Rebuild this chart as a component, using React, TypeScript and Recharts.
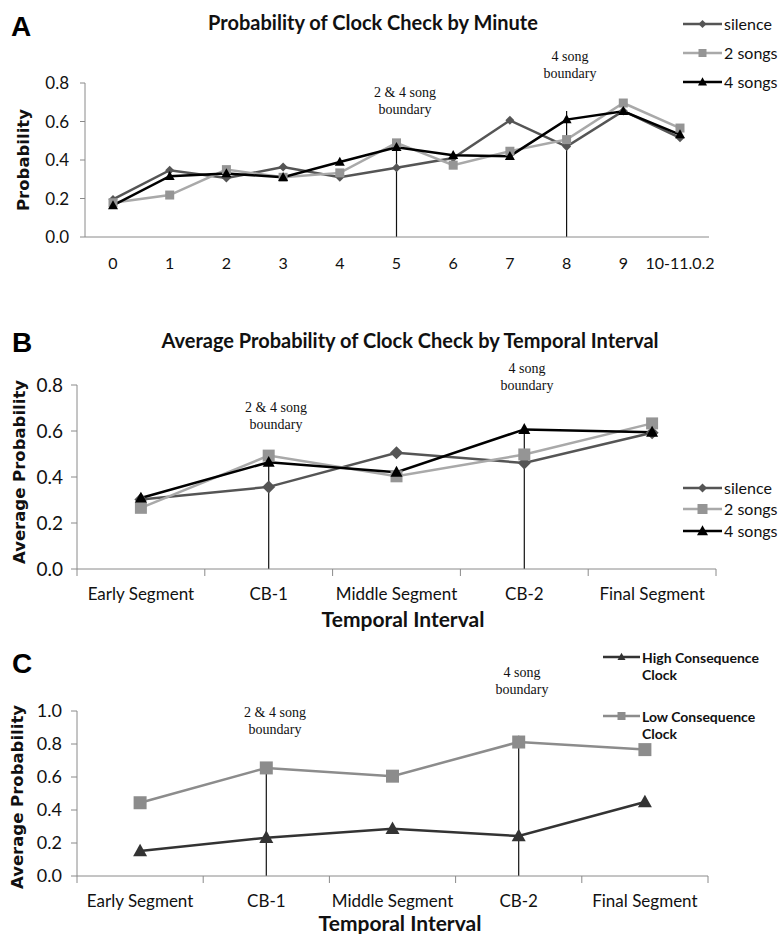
import React from 'react';
import { LineChart, Line, XAxis, YAxis, ReferenceLine } from 'recharts';

// panel A: by minute
const minutes = ['0', '1', '2', '3', '4', '5', '6', '7', '8', '9', '10-11.0.2'];
const silenceByMinute = [0.195, 0.347, 0.306, 0.363, 0.31, 0.36, 0.41, 0.606, 0.47, 0.655, 0.515];
const twoSongsByMinute = [0.178, 0.218, 0.35, 0.31, 0.333, 0.489, 0.373, 0.446, 0.506, 0.696, 0.566];
const fourSongsByMinute = [0.164, 0.316, 0.33, 0.31, 0.39, 0.466, 0.425, 0.42, 0.61, 0.653, 0.532];

// panels B and C: by temporal interval
const intervals = ['Early Segment', 'CB-1', 'Middle Segment', 'CB-2', 'Final Segment'];
const silenceByInterval = [0.302, 0.357, 0.505, 0.461, 0.592];
const twoSongsByInterval = [0.266, 0.493, 0.403, 0.498, 0.633];
const fourSongsByInterval = [0.309, 0.464, 0.421, 0.607, 0.595];
const highConsequence = [0.151, 0.232, 0.286, 0.242, 0.448];
const lowConsequence = [0.444, 0.655, 0.605, 0.812, 0.766];

const ticksTo08 = [0, 0.2, 0.4, 0.6, 0.8];
const ticksTo10 = [0, 0.2, 0.4, 0.6, 0.8, 1.0];

// song boundaries: category and height of the drawn line
const boundariesA = [{ at: '5', top: 0.48 }, { at: '8', top: 0.655 }];
const boundariesB = [{ at: 'CB-1', top: 0.48 }, { at: 'CB-2', top: 0.62 }];
const boundariesC = [{ at: 'CB-1', top: 0.655 }, { at: 'CB-2', top: 0.85 }];

const dataA = minutes.map((m, i) => ({
  minute: m,
  silence: silenceByMinute[i],
  two: twoSongsByMinute[i],
  four: fourSongsByMinute[i],
}));
const dataB = intervals.map((t, i) => ({
  interval: t,
  silence: silenceByInterval[i],
  two: twoSongsByInterval[i],
  four: fourSongsByInterval[i],
}));
const dataC = intervals.map((t, i) => ({
  interval: t,
  high: highConsequence[i],
  low: lowConsequence[i],
}));

const NARROW = "Lato, 'DejaVu Sans Condensed', sans-serif";
const WIDE = "'DejaVu Sans', Verdana, sans-serif";
const SERIF = "'Liberation Serif', 'Times New Roman', serif";
const AXIS = '#8a8a8a';

const C_SIL = '#555555';
const C_TWO = '#a9a9a9';
const C_TWO_M = '#959595';
const C_FOUR = '#000000';
const C_HIGH = '#333333';
const C_LOW = '#8c8c8c';

type Shape = 'diamond' | 'square' | 'triangle';

function markerPath(shape: Shape, cx: number, cy: number, size: number) {
  const h = size / 2;
  if (shape === 'diamond') return `M${cx},${cy - h}L${cx + h},${cy}L${cx},${cy + h}L${cx - h},${cy}Z`;
  if (shape === 'square') return `M${cx - h},${cy - h}h${size}v${size}h${-size}Z`;
  return `M${cx},${cy - h * 1.05}L${cx + h},${cy + h * 0.75}L${cx - h},${cy + h * 0.75}Z`;
}

const marker = (shape: Shape, size: number, fill: string) => (props: any) => {
  const { cx, cy, index } = props;
  if (cx == null || cy == null) return <g key={index} />;
  return <path key={index} d={markerPath(shape, cx, cy, size)} fill={fill} />;
};

const Txt = ({ x, y, style, children }: any) => (
  <div
    style={{
      position: 'absolute',
      left: x,
      top: y,
      transform: 'translate(-50%, -50%)',
      whiteSpace: 'nowrap',
      lineHeight: 1,
      ...style,
    }}
  >
    {children}
  </div>
);

const YLabel = ({ x, y, text }: any) => (
  <div
    style={{
      position: 'absolute',
      left: x,
      top: y,
      transform: 'translate(-50%, -50%) rotate(-90deg)',
      whiteSpace: 'nowrap',
      lineHeight: 1,
      fontFamily: WIDE,
      fontWeight: 'bold',
      fontSize: 16.5,
      color: '#111',
    }}
  >
    {text}
  </div>
);

const Boundary = ({ x, y, text }: any) => (
  <Txt x={x} y={y} style={{ fontFamily: SERIF, fontSize: 14, lineHeight: '17px', textAlign: 'center', color: '#111' }}>
    {text[0]}
    <br />
    {text[1]}
  </Txt>
);

const LegendRow = ({ x, y, shape, color, markColor, size, width, label, style }: any) => (
  <div style={{ position: 'absolute', left: x, top: y - 8 }}>
    <svg width={width} height={16} style={{ position: 'absolute', left: 0, top: 0 }}>
      <line x1={0} x2={width} y1={8} y2={8} stroke={color} strokeWidth={2.5} />
      <path d={markerPath(shape, width / 2, 8, size)} fill={markColor} />
    </svg>
    <div
      style={{
        position: 'absolute',
        left: width + 2,
        top: 0,
        whiteSpace: 'nowrap',
        fontFamily: NARROW,
        fontSize: 16,
        lineHeight: '16px',
        color: '#111',
        ...style,
      }}
    >
      {label}
    </div>
  </div>
);

const PointTick = ({ x, payload, axisY }: any) => (
  <text x={x} y={axisY + 25} textAnchor="middle" dominantBaseline="central" fontFamily={NARROW} fontSize={16} fill="#111">
    {payload.value}
  </text>
);

const BandTick = ({ x, payload, index, axisY, bw }: any) => (
  <g>
    <line x1={x - bw / 2} x2={x - bw / 2} y1={axisY} y2={axisY + 7} stroke={AXIS} />
    {index === intervals.length - 1 && <line x1={x + bw / 2} x2={x + bw / 2} y1={axisY} y2={axisY + 7} stroke={AXIS} />}
    <text x={x} y={axisY + 24} textAnchor="middle" dominantBaseline="central" fontFamily={NARROW} fontSize={17} fill="#111">
      {payload.value}
    </text>
  </g>
);

const yTick = { fill: '#111', fontSize: 17, fontFamily: NARROW };
const fmt = (v: number) => v.toFixed(1);

function PanelA() {
  const axisY = 237;
  return (
    <div style={{ position: 'absolute', left: 0, top: 0 }}>
      <LineChart width={779} height={300} data={dataA} margin={{ top: 83, right: 70, bottom: 33, left: 0 }}>
        <XAxis
          dataKey="minute"
          padding={{ left: 28, right: 29 }}
          axisLine={{ stroke: AXIS }}
          tickLine={false}
          height={30}
          interval={0}
          tick={<PointTick axisY={axisY} />}
        />
        <YAxis
          width={85}
          domain={[0, 0.8]}
          ticks={ticksTo08}
          tickFormatter={fmt}
          axisLine={{ stroke: AXIS }}
          tickLine={{ stroke: AXIS }}
          tickSize={5}
          tickMargin={11}
          tick={yTick}
        />
        {boundariesA.map((b) => (
          <ReferenceLine key={b.at} segment={[{ x: b.at, y: 0 }, { x: b.at, y: b.top }]} stroke="#111" strokeWidth={1.2} />
        ))}
        <Line dataKey="silence" stroke={C_SIL} strokeWidth={2.5} dot={marker('diamond', 9, C_SIL)} activeDot={false} isAnimationActive={false} />
        <Line dataKey="two" stroke={C_TWO} strokeWidth={2.5} dot={marker('square', 9, C_TWO_M)} activeDot={false} isAnimationActive={false} />
        <Line dataKey="four" stroke={C_FOUR} strokeWidth={2.5} dot={marker('triangle', 10, C_FOUR)} activeDot={false} isAnimationActive={false} />
      </LineChart>
    </div>
  );
}

function PanelB() {
  const axisY = 269;
  const bw = (716 - 77) / intervals.length;
  return (
    <div style={{ position: 'absolute', left: 0, top: 300 }}>
      <LineChart width={779} height={330} data={dataB} margin={{ top: 85, right: 63, bottom: 21, left: 0 }}>
        <XAxis
          dataKey="interval"
          padding={{ left: bw / 2, right: bw / 2 }}
          axisLine={{ stroke: AXIS }}
          tickLine={false}
          height={40}
          interval={0}
          tick={<BandTick axisY={axisY} bw={bw} />}
        />
        <YAxis
          width={77}
          domain={[0, 0.8]}
          ticks={ticksTo08}
          tickFormatter={fmt}
          axisLine={{ stroke: AXIS }}
          tickLine={{ stroke: AXIS }}
          tickSize={6}
          tickMargin={8}
          tick={{ ...yTick, fontSize: 19 }}
        />
        {boundariesB.map((b) => (
          <ReferenceLine key={b.at} segment={[{ x: b.at, y: 0 }, { x: b.at, y: b.top }]} stroke="#111" strokeWidth={1.2} />
        ))}
        <Line dataKey="silence" stroke={C_SIL} strokeWidth={2.5} dot={marker('diamond', 13, C_SIL)} activeDot={false} isAnimationActive={false} />
        <Line dataKey="two" stroke={C_TWO} strokeWidth={2.5} dot={marker('square', 12, C_TWO_M)} activeDot={false} isAnimationActive={false} />
        <Line dataKey="four" stroke={C_FOUR} strokeWidth={2.5} dot={marker('triangle', 12, C_FOUR)} activeDot={false} isAnimationActive={false} />
      </LineChart>
    </div>
  );
}

function PanelC() {
  const axisY = 246;
  const bw = (708 - 77) / intervals.length;
  return (
    <div style={{ position: 'absolute', left: 0, top: 630 }}>
      <LineChart width={779} height={304} data={dataC} margin={{ top: 81, right: 71, bottom: 18, left: 0 }}>
        <XAxis
          dataKey="interval"
          padding={{ left: bw / 2, right: bw / 2 }}
          axisLine={{ stroke: AXIS }}
          tickLine={false}
          height={40}
          interval={0}
          tick={<BandTick axisY={axisY} bw={bw} />}
        />
        <YAxis
          width={77}
          domain={[0, 1]}
          ticks={ticksTo10}
          tickFormatter={fmt}
          axisLine={{ stroke: AXIS }}
          tickLine={{ stroke: AXIS }}
          tickSize={6}
          tickMargin={9}
          tick={{ ...yTick, fontSize: 18 }}
        />
        {boundariesC.map((b) => (
          <ReferenceLine key={b.at} segment={[{ x: b.at, y: 0 }, { x: b.at, y: b.top }]} stroke="#111" strokeWidth={1.2} />
        ))}
        <Line dataKey="high" stroke={C_HIGH} strokeWidth={2.5} dot={marker('triangle', 14, C_HIGH)} activeDot={false} isAnimationActive={false} />
        <Line dataKey="low" stroke={C_LOW} strokeWidth={2.5} dot={marker('square', 13, C_LOW)} activeDot={false} isAnimationActive={false} />
      </LineChart>
    </div>
  );
}

const letterStyle = { fontFamily: "'Liberation Sans', Arial, sans-serif", fontWeight: 'bold', fontSize: 28, color: '#000' };
const titleStyle = { fontFamily: NARROW, fontWeight: 'bold', fontSize: 20, color: '#111' };
const axisTitleStyle = { fontFamily: NARROW, fontWeight: 'bold', fontSize: 21, color: '#111' };

export default function App() {
  return (
    <div style={{ position: 'absolute', left: 0, top: 0, width: 779, height: 934, background: '#fff', overflow: 'hidden' }}>
      <PanelA />
      <PanelB />
      <PanelC />

      {/* panel A texts */}
      <Txt x={21} y={27} style={letterStyle}>A</Txt>
      <Txt x={373} y={22} style={titleStyle}>Probability of Clock Check by Minute</Txt>
      <YLabel x={24} y={160} text="Probability" />
      <Boundary x={405} y={101} text={['2 & 4  song', 'boundary']} />
      <Boundary x={570} y={65} text={['4 song', 'boundary']} />
      <LegendRow x={683} y={24} width={39} shape="diamond" size={8} color={C_SIL} markColor={C_SIL} label="silence" />
      <LegendRow x={683} y={53} width={39} shape="square" size={8} color={C_TWO} markColor={C_TWO_M} label="2 songs" />
      <LegendRow x={683} y={82} width={39} shape="triangle" size={9} color={C_FOUR} markColor={C_FOUR} label="4 songs" />

      {/* panel B texts */}
      <Txt x={22} y={343} style={letterStyle}>B</Txt>
      <Txt x={410} y={340} style={titleStyle}>Average Probability of Clock Check by Temporal Interval</Txt>
      <YLabel x={20} y={472} text="Average Probability" />
      <Txt x={403} y={618} style={axisTitleStyle}>Temporal Interval</Txt>
      <Boundary x={276} y={416} text={['2 & 4 song', 'boundary']} />
      <Boundary x={527} y={377} text={['4 song', 'boundary']} />
      <LegendRow x={683} y={488} width={39} shape="diamond" size={9} color={C_SIL} markColor={C_SIL} label="silence" />
      <LegendRow x={683} y={509} width={39} shape="square" size={10} color={C_TWO} markColor={C_TWO_M} label="2 songs" />
      <LegendRow x={683} y={531} width={39} shape="triangle" size={11} color={C_FOUR} markColor={C_FOUR} label="4 songs" />

      {/* panel C texts */}
      <Txt x={22} y={664} style={letterStyle}>C</Txt>
      <YLabel x={18} y={797} text="Average Probability" />
      <Txt x={400} y={922} style={axisTitleStyle}>Temporal Interval</Txt>
      <Boundary x={275} y={721} text={['2 & 4 song', 'boundary']} />
      <Boundary x={522} y={681} text={['4 song', 'boundary']} />
      <LegendRow
        x={603}
        y={657}
        width={37}
        shape="triangle"
        size={8}
        color={C_HIGH}
        markColor={C_HIGH}
        label={<>High Consequence<br />Clock</>}
        style={{ fontWeight: 'bold', fontSize: 14, lineHeight: '17px', top: 0 }}
      />
      <LegendRow
        x={603}
        y={716}
        width={37}
        shape="square"
        size={8}
        color={C_LOW}
        markColor={C_LOW}
        label={<>Low Consequence<br />Clock</>}
        style={{ fontWeight: 'bold', fontSize: 14, lineHeight: '17px', top: 0 }}
      />
    </div>
  );
}
